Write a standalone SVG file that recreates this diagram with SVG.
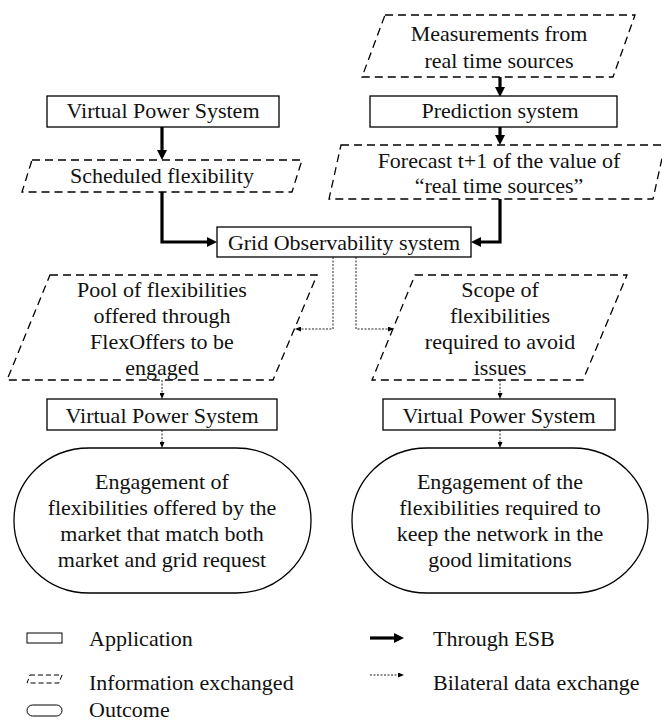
<svg xmlns="http://www.w3.org/2000/svg" width="662" height="722" viewBox="0 0 662 722" font-family="Liberation Serif, Times New Roman, DejaVu Serif, serif">
<style>
text{font-size:22px;fill:#111;text-anchor:middle}
.lg{text-anchor:start}
.app{fill:#fff;stroke:#000;stroke-width:1.3}
.info{fill:#fff;stroke:#000;stroke-width:1.3;stroke-dasharray:8 5}
.out{fill:#fff;stroke:#000;stroke-width:1.3}
.esb{fill:none;stroke:#000;stroke-width:3.2;marker-end:url(#ah)}
.bil{fill:none;stroke:#222;stroke-width:1;stroke-dasharray:2 1.5;marker-end:url(#ad)}
</style>
<defs>
<marker id="ah" viewBox="0 0 10 10" markerWidth="10" markerHeight="10" refX="0" refY="5" orient="auto" markerUnits="userSpaceOnUse"><path d="M0,0 L10,5 L0,10 z" fill="#000"/></marker>
<marker id="ad" viewBox="0 0 6 5" markerWidth="6" markerHeight="5" refX="0" refY="2.5" orient="auto" markerUnits="userSpaceOnUse"><path d="M0,0 L6,2.5 L0,5 z" fill="#000"/></marker>
</defs>
<rect width="662" height="722" fill="#fff"/>

<g id="connectors">
<path class="esb" d="M500,77 V87"/>
<path class="esb" d="M500,127 V135"/>
<path class="esb" d="M162,127 V150"/>
<path class="esb" d="M162,192 V242 H207"/>
<path class="esb" d="M500,199 V242 H481"/>
<path class="bil" d="M333,257 V329 H301"/>
<path class="bil" d="M356,257 V329 H388"/>
<path class="bil" d="M162,380 V393"/>
<path class="bil" d="M500,380 V393"/>
<path class="bil" d="M162,430 V442"/>
<path class="bil" d="M500,430 V442"/>
</g>

<g id="measurements">
<polygon class="info" points="385,15 635,15 613,77 362,77"/>
<text x="499" y="41">Measurements from</text>
<text x="499" y="68">real time sources</text>
</g>
<g id="prediction">
<rect class="app" x="370" y="96" width="247" height="31"/>
<text x="500" y="118">Prediction system</text>
</g>
<g id="forecast">
<polygon class="info" points="341,145 665,145 653,199 329,199"/>
<text x="499" y="168">Forecast t+1 of the value of</text>
<text x="499" y="193">“real time sources”</text>
</g>
<g id="vps-top">
<rect class="app" x="47" y="96" width="232" height="31"/>
<text x="163" y="118">Virtual Power System</text>
</g>
<g id="scheduled">
<polygon class="info" points="32,160 302,160 292,192 22,192"/>
<text x="162" y="183">Scheduled flexibility</text>
</g>
<g id="grid">
<rect class="app" x="217" y="227" width="254" height="30"/>
<text x="344" y="250">Grid Observability system</text>
</g>
<g id="pool">
<polygon class="info" points="50,275 317,275 273,380 7,380"/>
<text x="162" y="297">Pool of flexibilities</text>
<text x="162" y="323">offered through</text>
<text x="162" y="349">FlexOffers to be</text>
<text x="162" y="375">engaged</text>
</g>
<g id="scope">
<polygon class="info" points="415,275 627,275 583,380 372,380"/>
<text x="500" y="297">Scope of</text>
<text x="500" y="323">flexibilities</text>
<text x="500" y="349">required to avoid</text>
<text x="500" y="375">issues</text>
</g>
<g id="vps-left">
<rect class="app" x="47" y="399" width="230" height="31"/>
<text x="162" y="423">Virtual Power System</text>
</g>
<g id="vps-right">
<rect class="app" x="383" y="399" width="232" height="31"/>
<text x="499" y="423">Virtual Power System</text>
</g>
<g id="outcome-left">
<rect class="out" x="14" y="448" width="297" height="145" rx="75" ry="72"/>
<text x="162" y="489">Engagement of</text>
<text x="162" y="515">flexibilities offered by the</text>
<text x="162" y="541">market that match both</text>
<text x="162" y="567">market and grid request</text>
</g>
<g id="outcome-right">
<rect class="out" x="352" y="448" width="296" height="145" rx="75" ry="72"/>
<text x="500" y="489">Engagement of the</text>
<text x="500" y="515">flexibilities required to</text>
<text x="500" y="541">keep the network in the</text>
<text x="500" y="567">good limitations</text>
</g>

<g id="legend">
<rect x="27" y="633" width="35" height="10" fill="none" stroke="#000" stroke-width="1"/>
<text class="lg" x="89" y="646">Application</text>
<polygon points="30,675 62,675 59,683 27,683" fill="none" stroke="#000" stroke-width="1" stroke-dasharray="5 3"/>
<text class="lg" x="89" y="690">Information exchanged</text>
<rect x="27" y="705" width="35" height="11" rx="5.5" fill="none" stroke="#000" stroke-width="1"/>
<text class="lg" x="89" y="717">Outcome</text>
<path class="esb" d="M370,638 H394"/>
<text class="lg" x="433" y="646">Through ESB</text>
<path class="bil" d="M370,675 H398"/>
<text class="lg" x="433" y="690">Bilateral data exchange</text>
</g>
</svg>
